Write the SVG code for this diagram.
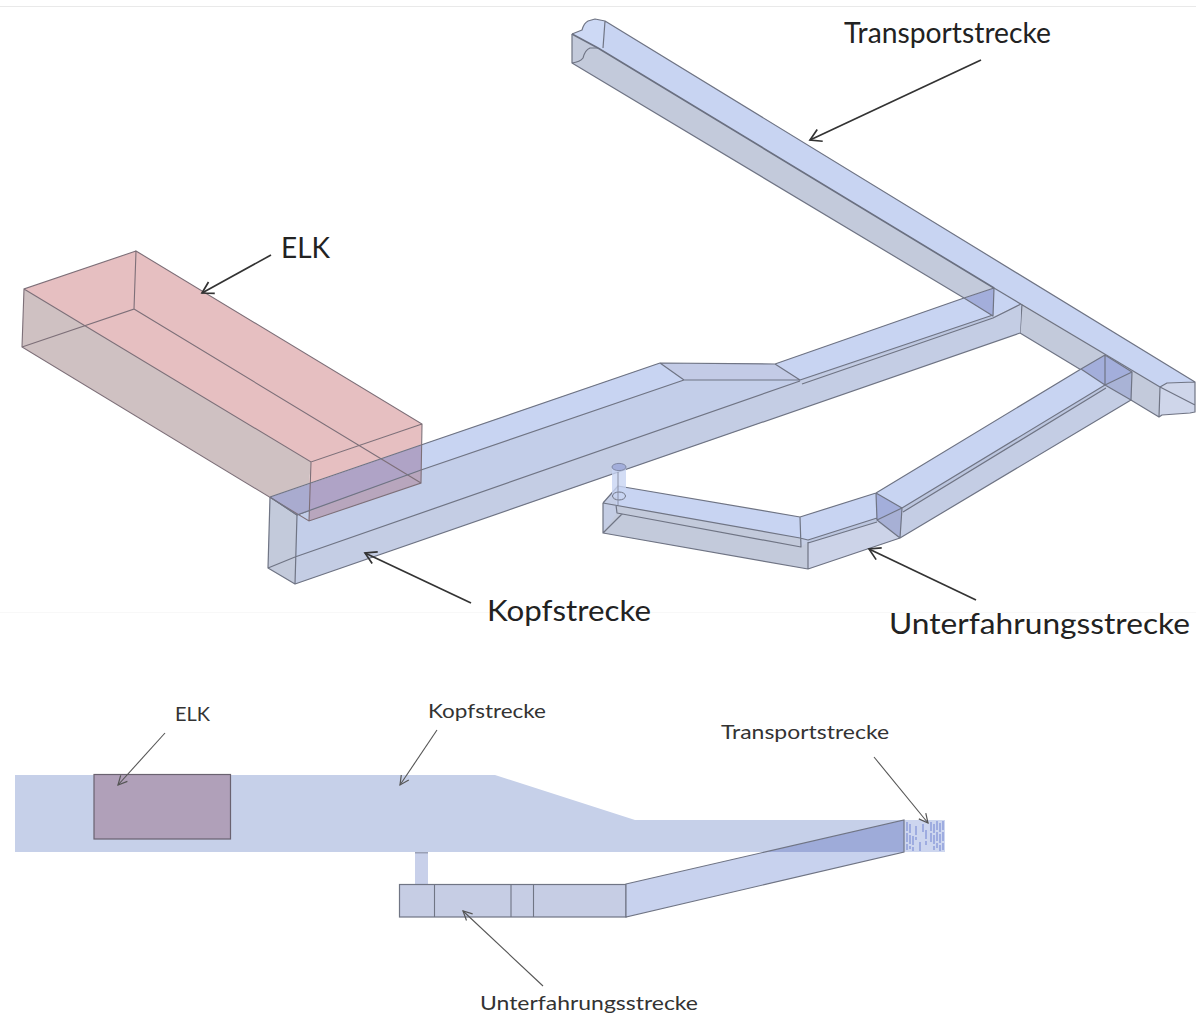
<svg xmlns="http://www.w3.org/2000/svg" width="1196" height="1013" viewBox="0 0 1196 1013">
<defs>
<filter id="soft" x="-2%" y="-2%" width="104%" height="104%"><feGaussianBlur stdDeviation="0.5"/></filter>
<marker id="big" markerUnits="userSpaceOnUse" markerWidth="24" markerHeight="24" refX="15" refY="12" orient="auto"><path d="M4 5.500L15 12L4 18.500" fill="none" stroke="#333" stroke-width="1.7"/></marker>
<marker id="small" markerUnits="userSpaceOnUse" markerWidth="20" markerHeight="20" refX="13" refY="10" orient="auto"><path d="M4 5.500L13 10L4 14.500" fill="none" stroke="#555" stroke-width="1.2"/></marker>
</defs>
<style>
.e{fill:none;stroke:#6f7484;stroke-width:1.2;stroke-linejoin:round}
.p{fill:none;stroke:#7d6f78;stroke-width:1.1}
.top{fill:#c8d4f2}.side{fill:#c3cadb}.front{fill:#c4cde4}.mid{fill:#c3cbe6}
.big{font-family:"Lato","Open Sans",sans-serif;font-size:28px;fill:#222}
.small{font-family:"Lato","Open Sans",sans-serif;font-size:20px;fill:#333}
.a1{fill:none;stroke:#333;stroke-width:1.7;marker-end:url(#big)}
.a2{fill:none;stroke:#555;stroke-width:1.1;marker-end:url(#small)}
.flat{fill:#c6d0e9}
.lo{fill:#c6cde4;stroke:#6f7484;stroke-width:1.2}
</style>
<rect width="1196" height="1013" fill="#fff"/>
<rect x="0" y="6" width="1196" height="1" fill="#e9e9e9"/>
<rect x="0" y="612" width="1196" height="1" fill="#f8f8f8"/>
<g filter="url(#soft)">
<g id="transport-3d">
<polygon class="side" points="572,34 598,48 994,288 964,298 572,63"/>
<polygon class="side" points="1021,304 1160,387 1159,417 1020,333"/>
<polygon class="top" points="605,21 1195,382 1167,383 1160,387 1022,304 994,288 598,48 603,48"/>
<polygon class="top" points="994,288 1022,304 993,316"/>
<path fill="#cdd9f5" d="M572,34L582,30Q584,23 588,21L595,19L605,21L603,48L598,48Z"/>
<polygon fill="#cfd6ea" points="1160,387 1167,383 1195,382 1195,412 1190,413 1162,415 1159,417"/>
<path class="e" d="M572,34L582,30Q584,23 588,21L595,19L605,21L1195,382L1195,412L1190,413L1162,415L1159,417L1160,387L1167,383L1195,382M605,21L603,48M572,34L572,63L964,298M1022,304L1020,333L1159,417M598,48L590,48Q585,50 583,58Q580,62 572,63M1160,387L1195,405M994,288L1160,387"/>
<path d="M572,34L598,48L994,288" fill="none" stroke="#6a6f80" stroke-width="1.7"/>
</g>
<g id="kopfstrecke-3d">
<polygon fill="#c3cce6" points="297,515 421,445 660,363 775,364 964,298 993,316 1021,304 1020,333 295,584"/>
<polygon class="top" points="421,445 660,363 684,380 421,470"/>
<polygon class="mid" points="660,363 775,364 800,380 684,380"/>
<polygon class="top" points="775,364 964,298 993,315 800,380"/>
<polygon fill="#c3cee9" points="295,557 297,515 684,380 800,380"/>
<polygon fill="#bcc6df" points="800,380 993,315 993,318 800,384"/>
<polygon class="front" points="295,557 800,381 993,318 1021,304 1020,333 295,584"/>
<polygon fill="#a3aedb" points="964,298 994,288 993,316"/>
<polygon class="side" points="270,497 297,515 295,584 268,568"/>
<path class="e" d="M421,445L660,363L775,364L964,298M660,363L684,380L800,380L775,364M421,470L684,380M800,380L993,315M802,384L993,318L1021,304M295,557L800,381M268,568L295,557M297,515L421,470M295,584L1020,333M270,497L268,568L295,584L297,515L270,497M964,298L994,288L993,316Z"/>
</g>
<g id="unterfahrung-3d">
<polygon fill="#c4cde4" points="603,503 618,486 800,517 876,493 1081,369 1105,355 1132,372 1131,400 900,538 808,569 603,533"/>
<polygon class="top" points="618,486 800,517 800,538 616,505"/>
<polygon class="side" points="616,505 800,538 801,547 617,513"/>
<polygon class="side" points="617,513 801,547 808,542 808,569 603,533"/>
<polygon class="top" points="800,517 876,493 877,518 808,540 800,538"/>
<polygon fill="#bcc6df" points="808,540 877,518 877,522 808,543"/>
<polygon fill="#ccd3e8" points="808,543 877,522 900,538 808,569"/>
<polygon class="top" points="876,493 1081,369 1105,385 902,508"/>
<polygon fill="#bcc6df" points="902,508 1105,385 1106,388 903,512"/>
<polygon class="front" points="903,512 1106,388 1131,400 900,538"/>
<polygon fill="#a3aedb" points="876,493 902,508 877,520"/>
<polygon fill="#a7b0d5" points="877,520 902,508 900,538"/>
<polygon fill="#a3aedb" points="1081,369 1105,355 1132,372 1105,385"/>
<polygon fill="#a9b3d6" points="1105,385 1132,372 1131,400"/>
<path class="e" d="M603,503L618,486L800,517L876,493L1081,369M603,503L603,533L808,569L900,538L1131,400M603,503L800,538L808,540L877,518M616,505L617,513L801,547L800,517M622,514L603,533M808,542L808,569M808,543L877,522M876,493L877,520L900,538L902,508L876,493M877,520L902,508M902,508L1105,385M903,512L1106,388M1081,369L1105,355L1132,372L1131,400L1105,385L1081,369M1105,355L1105,385L1132,372"/>
<rect x="612" y="467" width="14" height="30" fill="#c8d4f2" opacity=".8"/>
<ellipse cx="619" cy="467" rx="7" ry="3.600" fill="#a3aedb" stroke="#8088a5"/>
<ellipse cx="619" cy="496" rx="6.500" ry="4" fill="none" stroke="#6f7484"/>
<path d="M618,472V505" stroke="#8a90a5" fill="none"/>
</g>
<g id="elk-3d">
<polygon fill="#e6bfc1" points="136,251 24,289 311,462 422,424"/>
<polygon fill="#cfc1c2" points="24,289 22,347 270,497 309,484 311,462"/>
<polygon fill="#e6bfc1" points="311,462 422,424 421,445 309,484"/>
<polygon fill="#afa3c6" points="309,484 421,445 421,470 309,511"/>
<polygon fill="#b8a6bd" points="309,511 421,470 421,483 309,521"/>
<polygon fill="#a9abcf" points="270,497 309,484 309,511 297,515"/>
<path class="p" d="M136,251L24,289L22,347L309,521L421,483L422,424L136,251L134,309L22,347M24,289L311,462L422,424M311,462L309,521M134,309L421,483"/>
<path class="e" d="M270,497L297,515L421,470M270,497L421,445"/>
</g>
<g id="kopfstrecke-flat">
<polygon class="flat" points="15,775 495,775 635,820 905,820 905,852 15,852"/>
<rect x="415" y="852" width="13" height="33" fill="#c8d0ea"/>
<rect x="415" y="852" width="13" height="1.500" fill="#9aa0b5"/>
</g>
<g id="transport-flat">
<rect x="905" y="820" width="40" height="32" fill="#cdd6ef"/>
<path d="M907,822V850M910,824V849M913,836V851M916,826V840M931,822V842M934,824V850M937,821V848M940,823V851M943,821V850M926,830V845M920,842V851M923,824V832" stroke="#8f9fdc" stroke-width="1.500" stroke-dasharray="9 2" fill="none"/>
</g>
<g id="elk-flat">
<rect x="94" y="774.500" width="136.500" height="64.500" fill="#b0a0b9" stroke="#6a6270" stroke-width="1.2"/>
</g>
<g id="unterfahrung-flat">
<rect class="lo" x="399.500" y="884.500" width="226.500" height="32.500"/>
<polygon fill="#c8d2ee" points="626,884 904,820 904,852 626,917"/>
<polygon fill="#9eabd9" points="765,852 904,820 904,852"/>
<path d="M626,884L904,820L904,852L626,917Z" fill="none" stroke="#6f7484" stroke-width="1.1"/>
<path d="M434.500,884V917M511,884V917M533.500,884V917" stroke="#6f7484" stroke-width="1.1" fill="none"/>
</g>
</g>
<g id="connectors">
<line class="a1" x1="981" y1="60" x2="810" y2="140"/>
<line class="a1" x1="271" y1="255" x2="202" y2="293"/>
<line class="a1" x1="471" y1="603" x2="365" y2="553"/>
<line class="a1" x1="976" y1="600" x2="869" y2="549"/>
<line class="a2" x1="165" y1="733" x2="118" y2="785"/>
<line class="a2" x1="437" y1="730" x2="400" y2="785"/>
<line class="a2" x1="874" y1="757" x2="928" y2="823"/>
<line class="a2" x1="543" y1="986" x2="463" y2="911"/>
</g>
<g id="labels">
<text class="big" x="844" y="43" textLength="207" lengthAdjust="spacingAndGlyphs">Transportstrecke</text>
<text class="big" x="281" y="258" textLength="49" lengthAdjust="spacingAndGlyphs">ELK</text>
<text class="big" x="487" y="621" textLength="164" lengthAdjust="spacingAndGlyphs">Kopfstrecke</text>
<text class="big" x="889" y="634" textLength="301" lengthAdjust="spacingAndGlyphs">Unterfahrungsstrecke</text>
<text class="small" x="175" y="721" textLength="35" lengthAdjust="spacingAndGlyphs">ELK</text>
<text class="small" x="428" y="718" textLength="118" lengthAdjust="spacingAndGlyphs">Kopfstrecke</text>
<text class="small" x="721" y="739" textLength="168" lengthAdjust="spacingAndGlyphs">Transportstrecke</text>
<text class="small" x="480" y="1010" textLength="218" lengthAdjust="spacingAndGlyphs">Unterfahrungsstrecke</text>
</g>
</svg>
